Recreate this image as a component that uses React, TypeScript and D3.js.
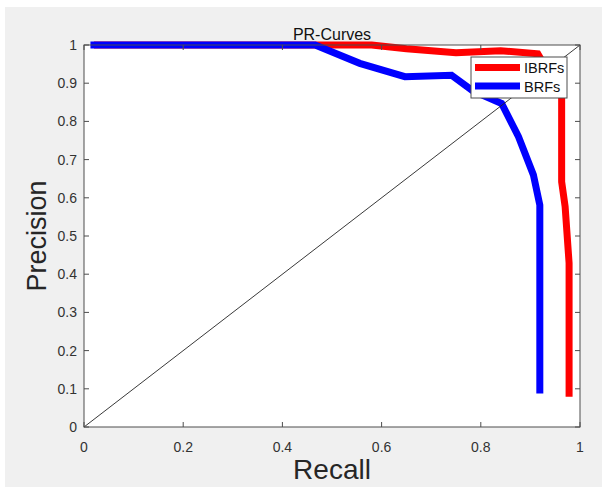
import { useMemo } from 'react';
import * as d3 from 'd3';

const recallIBRFs = [0.02, 0.47, 0.58, 0.65, 0.75, 0.84, 0.915, 0.963, 0.963, 0.97, 0.978, 0.978];
const precisionIBRFs = [1, 1, 1, 0.99, 0.98, 0.985, 0.977, 0.87, 0.642, 0.577, 0.429, 0.079];

const recallBRFs = [0.013, 0.466, 0.556, 0.647, 0.741, 0.784, 0.842, 0.876, 0.906, 0.919, 0.919];
const precisionBRFs = [1, 1, 0.952, 0.917, 0.921, 0.88, 0.847, 0.76, 0.66, 0.581, 0.088];

const xTicks = [0, 0.2, 0.4, 0.6, 0.8, 1];
const yTicks = [0, 0.1, 0.2, 0.3, 0.4, 0.5, 0.6, 0.7, 0.8, 0.9, 1];

const seriesNames = ['IBRFs', 'BRFs'];
const seriesColors = ['#ff0000', '#0000ff'];

const W = 602;
const H = 489;
const LEFT = 84;
const RIGHT = 580;
const TOP = 45;
const BOTTOM = 427;
const FONT = '"Liberation Sans", Arial, sans-serif';
const AXIS = '#4d4d4d';

export default function App() {
  const x = d3.scaleLinear().domain([0, 1]).range([LEFT, RIGHT]);
  const y = d3.scaleLinear().domain([0, 1]).range([BOTTOM, TOP]);

  const line = d3
    .line<[number, number]>()
    .x((d) => x(d[0]))
    .y((d) => y(d[1]));

  const series = useMemo(
    () => [
      recallIBRFs.map((r, i) => [r, precisionIBRFs[i]] as [number, number]),
      recallBRFs.map((r, i) => [r, precisionBRFs[i]] as [number, number]),
    ],
    []
  );

  const tick = 5;

  return (
    <svg width={W} height={H} style={{ position: 'absolute', left: 0, top: 0 }} fontFamily={FONT}>
      <rect x={0} y={0} width={W} height={H} fill="#ffffff" />
      <rect x={5} y={7} width={W - 5} height={480} fill="#f0f0f0" />
      <rect x={LEFT} y={TOP} width={RIGHT - LEFT} height={BOTTOM - TOP} fill="#ffffff" />

      {/* curves */}
      {series.map((pts, i) => (
        <path
          key={i}
          d={line(pts) ?? ''}
          fill="none"
          stroke={seriesColors[i]}
          strokeWidth={7}
          strokeLinejoin="miter"
        />
      ))}

      {/* diagonal */}
      <line x1={x(0)} y1={y(0)} x2={x(1)} y2={y(1)} stroke="#222" strokeWidth={0.9} />

      {/* box and ticks */}
      <rect x={LEFT} y={TOP} width={RIGHT - LEFT} height={BOTTOM - TOP} fill="none" stroke={AXIS} strokeWidth={1} />
      {xTicks.map((t) => (
        <g key={'x' + t}>
          <line x1={x(t)} x2={x(t)} y1={BOTTOM} y2={BOTTOM - tick} stroke={AXIS} />
          <line x1={x(t)} x2={x(t)} y1={TOP} y2={TOP + tick} stroke={AXIS} />
          <text x={x(t)} y={BOTTOM + 25} textAnchor="middle" fontSize={14} fill="#333">
            {t}
          </text>
        </g>
      ))}
      {yTicks.map((t) => (
        <g key={'y' + t}>
          <line x1={LEFT} x2={LEFT + tick} y1={y(t)} y2={y(t)} stroke={AXIS} />
          <line x1={RIGHT} x2={RIGHT - tick} y1={y(t)} y2={y(t)} stroke={AXIS} />
          <text x={LEFT - 7} y={y(t) + 5} textAnchor="end" fontSize={14} fill="#333">
            {t}
          </text>
        </g>
      ))}

      {/* labels */}
      <text x={(LEFT + RIGHT) / 2} y={40} textAnchor="middle" fontSize={16} fill="#111">
        PR-Curves
      </text>
      <text x={(LEFT + RIGHT) / 2} y={479} textAnchor="middle" fontSize={28} fill="#262626">
        Recall
      </text>
      <text
        transform={`translate(46, ${(TOP + BOTTOM) / 2}) rotate(-90)`}
        textAnchor="middle"
        fontSize={27}
        fill="#262626"
      >
        Precision
      </text>

      {/* legend */}
      <g transform="translate(471, 57)">
        <rect x={0} y={0} width={96} height={41} fill="#ffffff" stroke={AXIS} strokeWidth={1} />
        {seriesNames.map((n, i) => (
          <g key={n} transform={`translate(0, ${10.5 + i * 18.5})`}>
            <line x1={4} x2={49} y1={0} y2={0} stroke={seriesColors[i]} strokeWidth={7} />
            <text x={53} y={5.5} fontSize={14.5} fill="#111">
              {n}
            </text>
          </g>
        ))}
      </g>
    </svg>
  );
}
